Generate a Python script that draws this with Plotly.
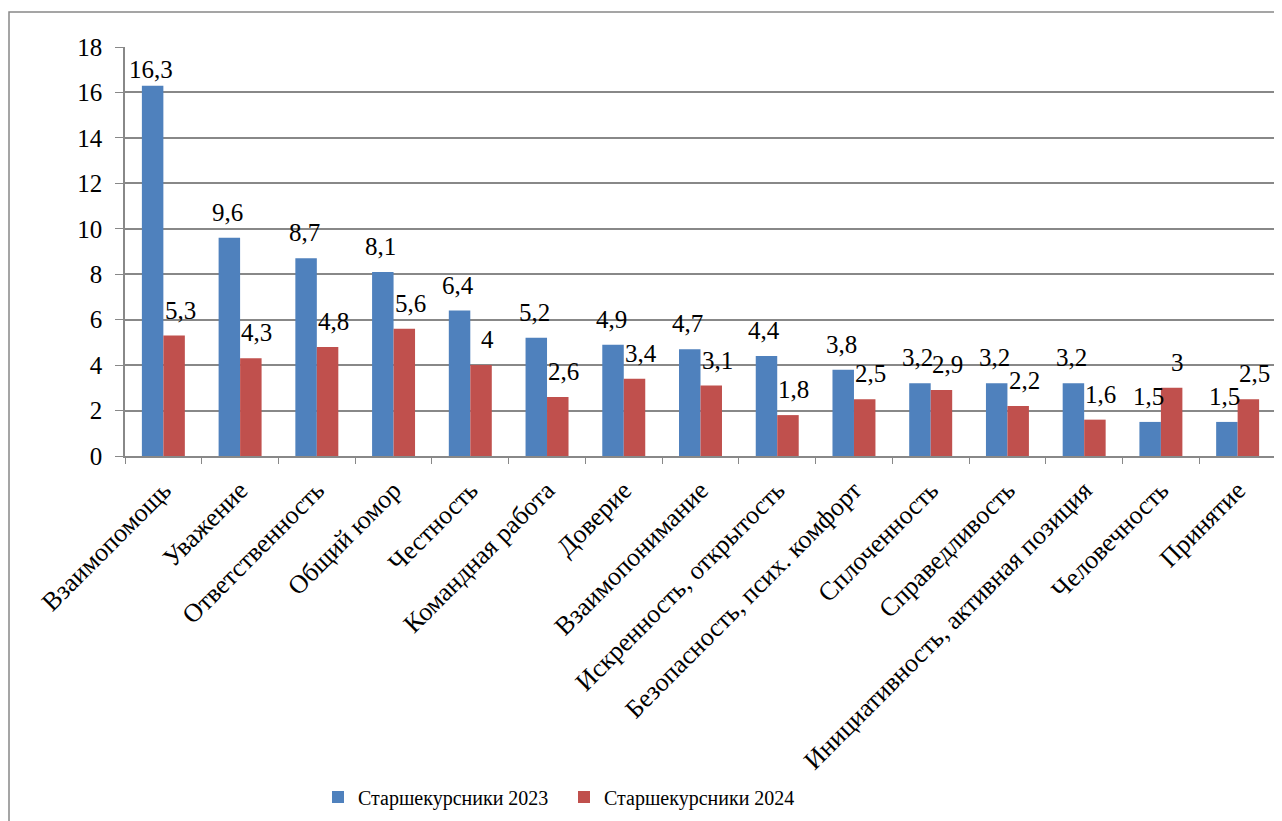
import plotly.graph_objects as go

categories = ["Взаимопомощь", "Уважение", "Ответственность", "Общий юмор", "Честность",
              "Командная работа", "Доверие", "Взаимопонимание", "Искренность, открытость",
              "Безопасность, псих. комфорт", "Сплоченность", "Справедливость",
              "Инициативность, активная позиция", "Человечность", "Принятие"]
values_2023 = [16.3, 9.6, 8.7, 8.1, 6.4, 5.2, 4.9, 4.7, 4.4, 3.8, 3.2, 3.2, 3.2, 1.5, 1.5]
values_2024 = [5.3, 4.3, 4.8, 5.6, 4.0, 2.6, 3.4, 3.1, 1.8, 2.5, 2.9, 2.2, 1.6, 3.0, 2.5]
series_names = ["Старшекурсники 2023", "Старшекурсники 2024"]
colors = ["#4F81BD", "#C0504D"]

def fmt(v):
    return f"{v:g}".replace(".", ",")

FONT = "Liberation Serif"

# page has an 8px body margin, so screen coords are offset by 8
OFF = 8
W, H = 1282 - OFF, 821 - OFF
L, R, T, B = 125 - OFF, 6, 47 - OFF, 821 - 456
pw, ph = W - L - R, H - T - B
BARGAP = 0.44
YMAX = 18

def px(x):
    return (x - OFF - L) / pw

def py(y):
    return (H - B - (y - OFF)) / ph

fig = go.Figure()
for name, vals, col in zip(series_names, [values_2023, values_2024], colors):
    fig.add_trace(go.Bar(
        x=categories, y=vals, name=name, marker_color=col, marker_line_width=0,
    ))

# data labels as annotations above each bar
cat_w = pw / len(categories)
bar_w = cat_w * (1 - BARGAP) / 2
for si, vals in enumerate([values_2023, values_2024]):
    xs = (-bar_w / 2 - 2) if si == 0 else (bar_w / 2 + 6)
    for c, v in zip(categories, vals):
        # labels near the top of the plot are pulled down to stay inside it
        ys = 1 if v > YMAX - 3 else 10
        fig.add_annotation(x=c, y=v, xref="x", yref="y", text=fmt(v), showarrow=False,
                           xanchor="center", yanchor="bottom", xshift=xs, yshift=ys,
                           font=dict(family=FONT, size=25, color="black"))

fig.update_layout(
    width=W, height=H,
    margin=dict(l=L, r=R, t=T, b=B, autoexpand=False),
    paper_bgcolor="white", plot_bgcolor="white",
    barmode="group", bargap=BARGAP, bargroupgap=0,
    font=dict(family=FONT, size=24, color="black"),
    showlegend=True,
    legend=dict(orientation="h", x=px(318), xanchor="left", y=py(797), yanchor="middle",
                font=dict(family=FONT, size=20, color="black"), traceorder="normal",
                itemwidth=30, entrywidth=201),
)
fig.update_xaxes(
    type="category", tickangle=-45, tickson="boundaries", ticks="outside", ticklen=6,
    tickcolor="#888888", showline=True, linecolor="#888888", linewidth=1.5,
    tickfont=dict(family=FONT, size=26, color="black"), showgrid=False, automargin=False,
    ticklabelstandoff=7,
)
fig.update_yaxes(
    range=[0, YMAX], dtick=2, ticks="outside", ticklen=8, tickcolor="#888888",
    showline=True, linecolor="#888888", linewidth=1.5, showgrid=True,
    gridcolor="#888888", gridwidth=1.5, zeroline=False, automargin=False,
    tickfont=dict(family=FONT, size=25, color="black"), ticklabelstandoff=8,
)
fig.add_shape(type="rect", xref="paper", yref="paper",
              x0=px(9), y0=py(830), x1=px(1290), y1=py(12),
              line=dict(color="#888888", width=1.5), fillcolor="rgba(0,0,0,0)", layer="below")

fig.write_html("out.html")
